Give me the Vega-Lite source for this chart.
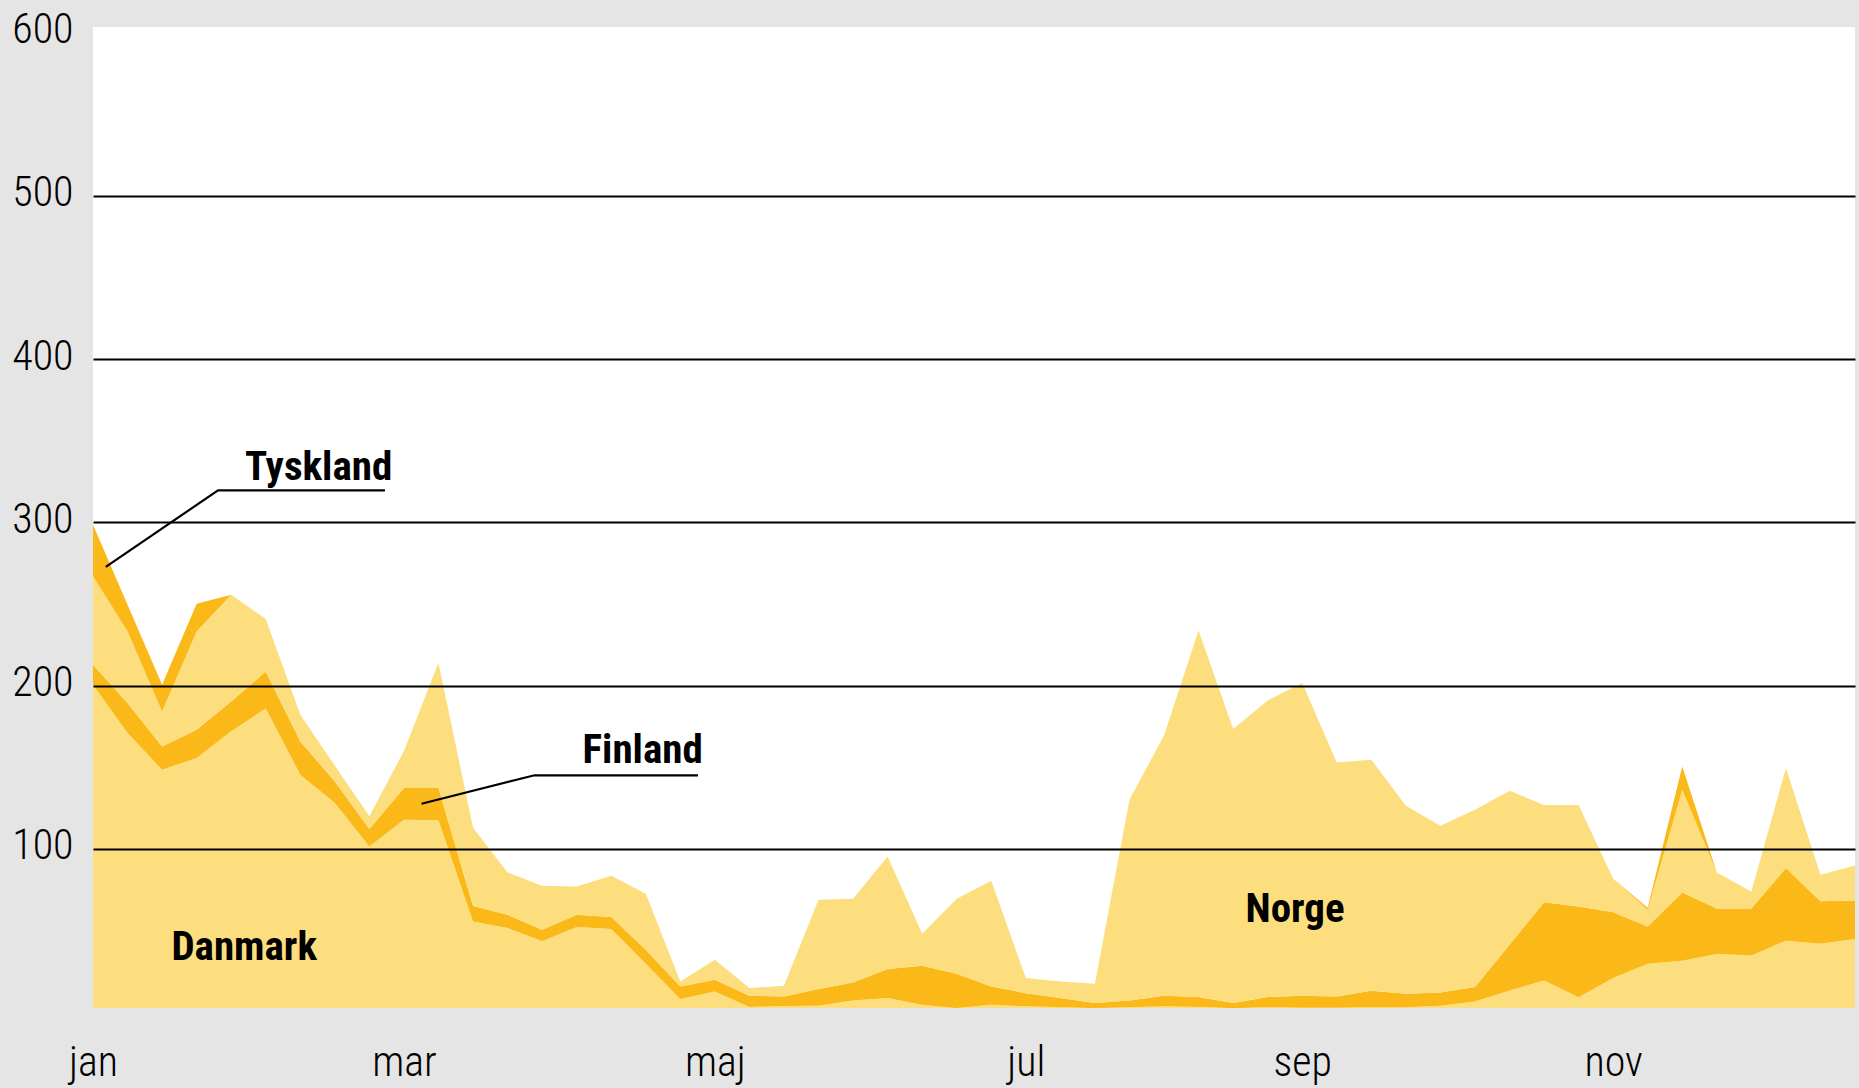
{
  "$schema": "https://vega.github.io/schema/vega-lite/v6.json",
  "autosize": {"type": "none"},
  "width": 1762,
  "height": 981,
  "padding": {"left": 93, "top": 27, "right": 4, "bottom": 80},
  "background": "#e5e5e5",
  "view": {"fill": "white", "stroke": null},
  "config": {
    "font": "Liberation Sans Narrow, Roboto Condensed, DejaVu Sans Condensed, sans-serif"
  },
  "datasets": {
    "serier": [
      {"uge": 1, "Danmark": 200.5, "Finland": 12.3, "Norge": 54.1, "Tyskland": 31.6},
      {"uge": 2, "Danmark": 171, "Finland": 18.3, "Norge": 43.9, "Tyskland": 16.3},
      {"uge": 3, "Danmark": 148.5, "Finland": 14.3, "Norge": 21.4, "Tyskland": 16.3},
      {"uge": 4, "Danmark": 155.7, "Finland": 17.3, "Norge": 60.2, "Tyskland": 17},
      {"uge": 5, "Danmark": 172, "Finland": 18.3, "Norge": 65.4, "Tyskland": 0},
      {"uge": 6, "Danmark": 186, "Finland": 22.7, "Norge": 32.1, "Tyskland": 0},
      {"uge": 7, "Danmark": 145.4, "Finland": 20.4, "Norge": 16.4, "Tyskland": 0},
      {"uge": 8, "Danmark": 128.1, "Finland": 13.2, "Norge": 9.7, "Tyskland": 0},
      {"uge": 9, "Danmark": 101.5, "Finland": 10.7, "Norge": 7.8, "Tyskland": 0},
      {"uge": 10, "Danmark": 117.9, "Finland": 19.4, "Norge": 22.7, "Tyskland": 0},
      {"uge": 11, "Danmark": 117.5, "Finland": 19.8, "Norge": 76.7, "Tyskland": 0},
      {"uge": 12, "Danmark": 55.6, "Finland": 9.4, "Norge": 48, "Tyskland": 0},
      {"uge": 13, "Danmark": 51.6, "Finland": 8.1, "Norge": 25.9, "Tyskland": 0},
      {"uge": 14, "Danmark": 43.4, "Finland": 7.1, "Norge": 27, "Tyskland": 0},
      {"uge": 15, "Danmark": 52.2, "Finland": 7.5, "Norge": 17.3, "Tyskland": 0},
      {"uge": 16, "Danmark": 50.9, "Finland": 7.4, "Norge": 25.3, "Tyskland": 0},
      {"uge": 17, "Danmark": 29.7, "Finland": 8.6, "Norge": 34.3, "Tyskland": 0},
      {"uge": 18, "Danmark": 8.1, "Finland": 7.7, "Norge": 3.1, "Tyskland": 0},
      {"uge": 19, "Danmark": 12.7, "Finland": 7.2, "Norge": 12.2, "Tyskland": 0},
      {"uge": 20, "Danmark": 3.2, "Finland": 6.9, "Norge": 4.7, "Tyskland": 0},
      {"uge": 21, "Danmark": 3.8, "Finland": 5.9, "Norge": 6.5, "Tyskland": 0},
      {"uge": 22, "Danmark": 4, "Finland": 10.2, "Norge": 54.7, "Tyskland": 0},
      {"uge": 23, "Danmark": 7.2, "Finland": 11, "Norge": 51.3, "Tyskland": 0},
      {"uge": 24, "Danmark": 8.7, "Finland": 17.8, "Norge": 68.9, "Tyskland": 0},
      {"uge": 25, "Danmark": 4.6, "Finland": 23.9, "Norge": 19.6, "Tyskland": 0},
      {"uge": 26, "Danmark": 2.5, "Finland": 21.1, "Norge": 45.9, "Tyskland": 0},
      {"uge": 27, "Danmark": 4.6, "Finland": 11.2, "Norge": 64.7, "Tyskland": 0},
      {"uge": 28, "Danmark": 3.6, "Finland": 8.1, "Norge": 9.2, "Tyskland": 0},
      {"uge": 29, "Danmark": 3, "Finland": 5.7, "Norge": 10.2, "Tyskland": 0},
      {"uge": 30, "Danmark": 2.5, "Finland": 3.1, "Norge": 11.9, "Tyskland": 0},
      {"uge": 31, "Danmark": 3, "Finland": 4.2, "Norge": 122.9, "Tyskland": 0},
      {"uge": 32, "Danmark": 3.6, "Finland": 6.5, "Norge": 159.4, "Tyskland": 0},
      {"uge": 33, "Danmark": 3.2, "Finland": 6.1, "Norge": 224.5, "Tyskland": 0},
      {"uge": 34, "Danmark": 2.5, "Finland": 3.1, "Norge": 167.8, "Tyskland": 0},
      {"uge": 35, "Danmark": 3, "Finland": 6.3, "Norge": 181.6, "Tyskland": 0},
      {"uge": 36, "Danmark": 2.8, "Finland": 7.3, "Norge": 191.5, "Tyskland": 0},
      {"uge": 37, "Danmark": 2.8, "Finland": 6.9, "Norge": 143.3, "Tyskland": 0},
      {"uge": 38, "Danmark": 3, "Finland": 10.2, "Norge": 141.4, "Tyskland": 0},
      {"uge": 39, "Danmark": 3, "Finland": 8.3, "Norge": 115.2, "Tyskland": 0},
      {"uge": 40, "Danmark": 4, "Finland": 8.1, "Norge": 102.1, "Tyskland": 0},
      {"uge": 41, "Danmark": 6.6, "Finland": 8.8, "Norge": 108.6, "Tyskland": 0},
      {"uge": 42, "Danmark": 13.3, "Finland": 28, "Norge": 94.4, "Tyskland": 0},
      {"uge": 43, "Danmark": 19.5, "Finland": 47.8, "Norge": 59.6, "Tyskland": 0},
      {"uge": 44, "Danmark": 9.2, "Finland": 55.6, "Norge": 62.1, "Tyskland": 0},
      {"uge": 45, "Danmark": 20.9, "Finland": 40.4, "Norge": 20.5, "Tyskland": 0},
      {"uge": 46, "Danmark": 29.7, "Finland": 22.8, "Norge": 10.3, "Tyskland": 1.2},
      {"uge": 47, "Danmark": 31.5, "Finland": 41.9, "Norge": 62.8, "Tyskland": 14.3},
      {"uge": 48, "Danmark": 35.6, "Finland": 28, "Norge": 22, "Tyskland": 0},
      {"uge": 49, "Danmark": 34.8, "Finland": 28.8, "Norge": 10.4, "Tyskland": 0},
      {"uge": 50, "Danmark": 43.8, "Finland": 44.5, "Norge": 61.2, "Tyskland": 0},
      {"uge": 51, "Danmark": 41.9, "Finland": 26, "Norge": 16.3, "Tyskland": 0},
      {"uge": 52, "Danmark": 44.8, "Finland": 23.7, "Norge": 21.4, "Tyskland": 0}
    ],
    "ledere": [
      {"grp": "Tyskland", "ord": 1, "uge": 9.45, "verdi": 319.6},
      {"grp": "Tyskland", "ord": 2, "uge": 4.62, "verdi": 319.6},
      {"grp": "Tyskland", "ord": 3, "uge": 1.37, "verdi": 272.7},
      {"grp": "Finland", "ord": 1, "uge": 18.51, "verdi": 145.1},
      {"grp": "Finland", "ord": 2, "uge": 13.78, "verdi": 145.1},
      {"grp": "Finland", "ord": 3, "uge": 10.51, "verdi": 127.7}
    ],
    "tekster": [
      {"navn": "Tyskland", "uge": 5.4, "verdi": 326.2},
      {"navn": "Finland", "uge": 15.17, "verdi": 152.7},
      {"navn": "Danmark", "uge": 3.27, "verdi": 32.2},
      {"navn": "Norge", "uge": 34.36, "verdi": 55}
    ]
  },
  "layer": [
    {
      "data": {"name": "serier"},
      "transform": [
        {"fold": ["Danmark", "Finland", "Norge", "Tyskland"], "as": ["land", "verdi"]}
      ],
      "mark": {"type": "area", "interpolate": "linear", "clip": true},
      "encoding": {
        "x": {
          "field": "uge",
          "type": "quantitative",
          "scale": {"domain": [1, 52], "nice": false, "zero": false},
          "axis": {
            "title": null,
            "values": [1, 10, 19, 28, 36, 45],
            "labelExpr": "datum.value == 1 ? 'jan' : datum.value == 10 ? 'mar' : datum.value == 19 ? 'maj' : datum.value == 28 ? 'jul' : datum.value == 36 ? 'sep' : 'nov'",
            "domain": false,
            "ticks": false,
            "tickSize": 0,
            "grid": false,
            "labelFontSize": 42,
            "labelFontWeight": 300,
            "labelColor": "black",
            "labelPadding": 67,
            "labelBaseline": "alphabetic",
            "labelAlign": "center",
            "labelFlush": false,
            "labelOverlap": false
          }
        },
        "y": {
          "field": "verdi",
          "type": "quantitative",
          "stack": "zero",
          "scale": {"domain": [2.6, 603.3], "nice": false, "zero": false},
          "axis": {
            "title": null,
            "values": [100, 200, 300, 400, 500, 600],
            "domain": false,
            "ticks": false,
            "tickSize": 0,
            "grid": true,
            "gridColor": "black",
            "gridWidth": 2,
            "gridOpacity": {"condition": {"test": "datum.value === 600", "value": 0}, "value": 1},
            "labelFontSize": 42,
            "labelFontWeight": 300,
            "labelColor": "black",
            "labelPadding": 20,
            "labelAlign": "right",
            "labelBaseline": "alphabetic",
            "labelOffset": 10,
            "labelFlush": false,
            "labelOverlap": false,
            "zindex": 1
          }
        },
        "color": {
          "field": "land",
          "type": "nominal",
          "scale": {
            "domain": ["Danmark", "Finland", "Norge", "Tyskland"],
            "range": ["#FDDE7E", "#FBB919", "#FDDE7E", "#FBB919"]
          },
          "legend": null
        },
        "order": {"field": "land", "sort": "ascending"}
      }
    },
    {
      "data": {"name": "ledere"},
      "mark": {"type": "line", "color": "black", "strokeWidth": 2.2, "clip": true},
      "encoding": {
        "x": {"field": "uge", "type": "quantitative"},
        "y": {"field": "verdi", "type": "quantitative", "stack": null},
        "detail": {"field": "grp", "type": "nominal"},
        "order": {"field": "ord", "type": "quantitative"}
      }
    },
    {
      "data": {"name": "tekster"},
      "mark": {
        "type": "text",
        "align": "left",
        "baseline": "alphabetic",
        "fontSize": 41,
        "fontWeight": "bold",
        "color": "black"
      },
      "encoding": {
        "x": {"field": "uge", "type": "quantitative"},
        "y": {"field": "verdi", "type": "quantitative", "stack": null},
        "text": {"field": "navn", "type": "nominal"}
      }
    }
  ]
}
